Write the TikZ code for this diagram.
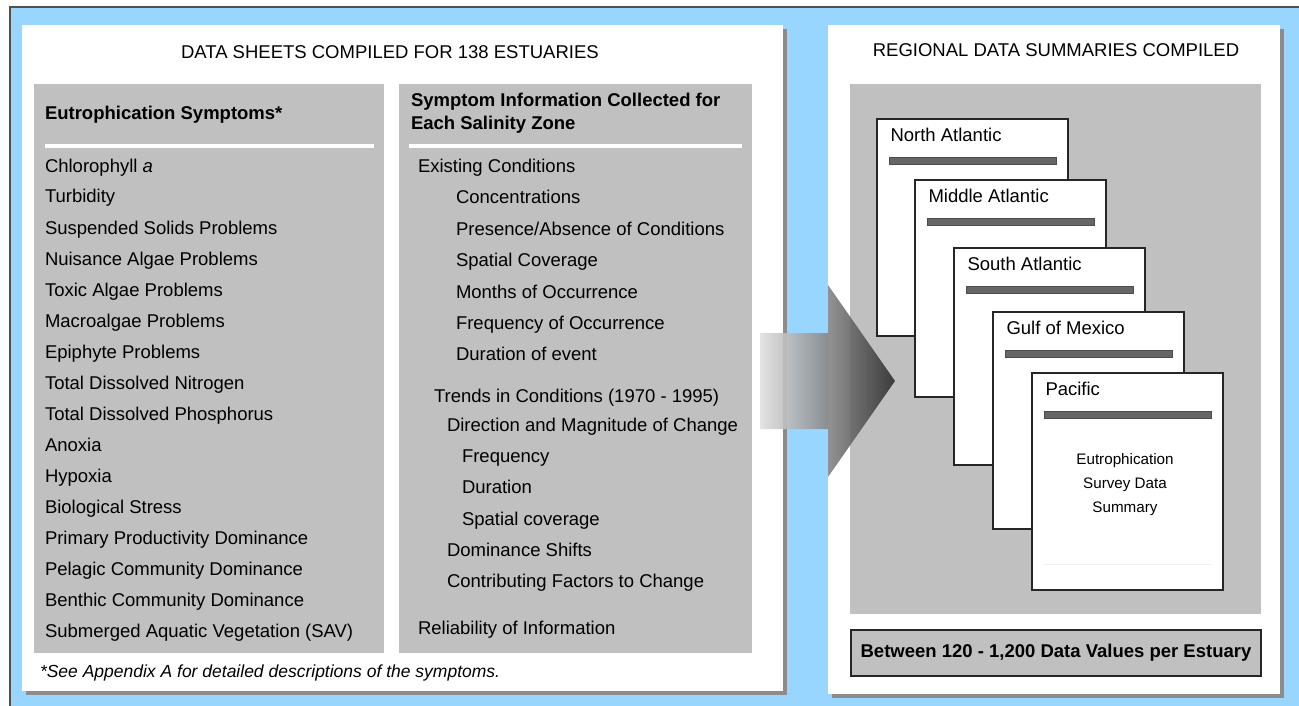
\documentclass[tikz,border=0pt]{standalone}
\usepackage{fontspec}
\setmainfont{Liberation Sans}
\definecolor{skyb}{RGB}{153,214,255}
\definecolor{panelgray}{RGB}{192,192,192}
\definecolor{shadowgray}{RGB}{140,140,140}
\definecolor{bargray}{RGB}{102,102,102}
\definecolor{framegray}{RGB}{80,80,80}
\tikzset{
  txt/.style={anchor=base west, inner sep=0pt, outer sep=0pt, font=\fontsize{18.5}{22}\selectfont},
  btxt/.style={txt, font=\bfseries\fontsize{18.5}{22}\selectfont},
  itxt/.style={txt, font=\itshape\fontsize{17.5}{21}\selectfont},
  ctxt/.style={anchor=base, inner sep=0pt, outer sep=0pt, font=\fontsize{18.5}{22}\selectfont},
  smalltxt/.style={anchor=base, inner sep=0pt, outer sep=0pt, font=\fontsize{15.2}{18}\selectfont},
  shadowbox/.style={fill=shadowgray},
  whitebox/.style={fill=white},
  greybox/.style={fill=panelgray},
  rulebar/.style={fill=white},
  docbox/.style={draw=black!85, line width=1.2pt, fill=white, anchor=north west,
    minimum width=191pt, minimum height=217pt, inner sep=0pt, outer sep=0pt},
  docbar/.style={draw=black!70, line width=0.6pt, fill=bargray},
  sumbox/.style={draw=black!85, line width=1.2pt, fill=panelgray},
}
\begin{document}
\begin{tikzpicture}[x=1pt,y=-1pt]
\useasboundingbox (0,0) rectangle (1299,706);
% outer frame
\fill[skyb] (10,7) rectangle (1299,706);
\draw[framegray, line width=1.6pt] (10,706) -- (10,7) -- (1299,7);
% left panel
\fill[shadowbox] (26,29) rectangle (787,695);
\fill[whitebox] (22,25) rectangle (783,691);
% right panel
\fill[shadowbox] (832,29) rectangle (1284,698);
\fill[whitebox] (828,25) rectangle (1280,694);
% columns
\fill[greybox] (34,84) rectangle (384,653);
\fill[greybox] (399,84) rectangle (752,653);
\fill[rulebar] (45,144) rectangle (374,148);
\fill[rulebar] (409,144) rectangle (742,148);
% titles
\node[txt] (t1) at (181,59) {DATA SHEETS COMPILED FOR 138 ESTUARIES};
\node[ctxt] (t2) at (1056,57) {REGIONAL DATA SUMMARIES COMPILED};
% left column
\node[btxt] (lh) at (45,120) {Eutrophication Symptoms*};
\foreach \i/\t in {0/{Chlorophyll \textit{a}},1/Turbidity,2/Suspended Solids Problems,3/Nuisance Algae Problems,
  4/Toxic Algae Problems,5/Macroalgae Problems,6/Epiphyte Problems,7/Total Dissolved Nitrogen,
  8/Total Dissolved Phosphorus,9/Anoxia,10/Hypoxia,11/Biological Stress,12/Primary Productivity Dominance,
  13/Pelagic Community Dominance,14/Benthic Community Dominance,15/Submerged Aquatic Vegetation (SAV)}{
  \node[txt] (l\i) at (45,172+31*\i) {\t};
}
% middle column
\node[btxt] (mh1) at (411,107) {Symptom Information Collected for};
\node[btxt] (mh2) at (411,130) {Each Salinity Zone};
\node[txt] (m1) at (418,173) {Existing Conditions};
\node[txt] (m2) at (456,204) {Concentrations};
\node[txt] (m3) at (456,235) {Presence/Absence of Conditions};
\node[txt] (m4) at (456,266.5) {Spatial Coverage};
\node[txt] (m5) at (456,298) {Months of Occurrence};
\node[txt] (m6) at (456,329) {Frequency of Occurrence};
\node[txt] (m7) at (456,360) {Duration of event};
\node[txt] (m8) at (434,402) {Trends in Conditions (1970 - 1995)};
\node[txt] (m9) at (447,431) {Direction and Magnitude of Change};
\node[txt] (m10) at (462,462) {Frequency};
\node[txt] (m11) at (462,493) {Duration};
\node[txt] (m12) at (462,525.5) {Spatial coverage};
\node[txt] (m13) at (447,556) {Dominance Shifts};
\node[txt] (m14) at (447,587) {Contributing Factors to Change};
\node[txt] (m15) at (418,634) {Reliability of Information};
% footnote
\node[itxt] (fn) at (40,677) {*See Appendix A for detailed descriptions of the symptoms.};
% right grey area
\fill[greybox] (850,84) rectangle (1261,614);
\foreach \nm/\lab/\x/\y in {na/North Atlantic/877/119, ma/Middle Atlantic/915/180,
  sa/South Atlantic/954/248, gm/Gulf of Mexico/993/312, pa/Pacific/1032/373}{
  \node[docbox] (\nm) at (\x,\y) {};
  \draw[docbar] ([shift={(12,38.5)}]\nm.north west) rectangle ([shift={(-12,45)}]\nm.north east);
  \node[txt] (\nm-l) at ([shift={(13.5,22.5)}]\nm.north west) {\lab};
}
\draw[black!6, line width=0.8pt] ([shift={(11,-26)}]pa.south west) -- ([shift={(-12,-26)}]pa.south east);
\node[smalltxt] (p1) at (1125,464) {Eutrophication};
\node[smalltxt] (p2) at (1125,488.3) {Survey Data};
\node[smalltxt] (p3) at (1125,512.6) {Summary};
% summary box
\draw[sumbox] (851,630) rectangle (1261,676);
\node[btxt, anchor=base] (sb) at (1056,657) {Between 120 - 1,200 Data Values per Estuary};
% arrow
\shade[left color=black!12, right color=black!82, opacity=0.9]
  (760,333) -- (828,333) -- (828,285) -- (895,381) -- (828,477) -- (828,429) -- (760,429) -- cycle;
\end{tikzpicture}
\end{document}
